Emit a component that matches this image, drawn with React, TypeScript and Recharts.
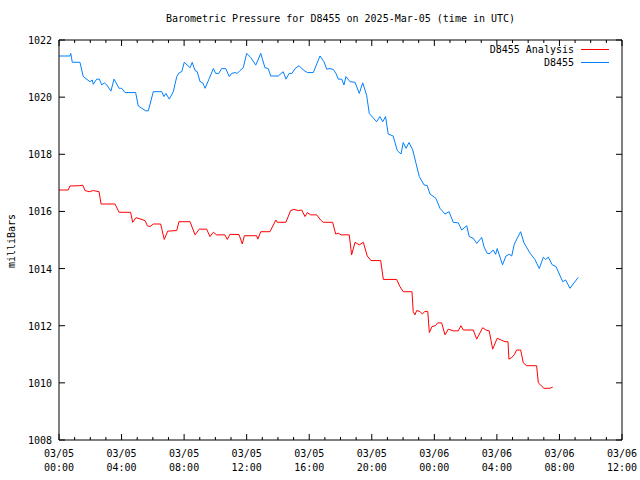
import { LineChart, Line, XAxis, YAxis, Legend } from "recharts";

const TITLE = "Barometric Pressure for D8455 on 2025-Mar-05 (time in UTC)";
const Y_LABEL = "milliBars";
const FONT = "'DejaVu Sans Mono', 'Liberation Mono', monospace";

// hours since 03/05 00:00 UTC
const Y_TICKS = [1008, 1010, 1012, 1014, 1016, 1018, 1020, 1022];
const HOUR_TICKS = Array.from({ length: 37 }, (_, i) => i);

const ANALYSIS_NAME = "D8455 Analysis";
const ANALYSIS_HOURS = [
  0, 0.59, 0.7, 1.3, 1.52, 1.66, 1.94, 2.19, 2.56, 2.69, 3.58, 3.84, 4.58, 4.71, 4.92, 5.18, 5.5, 5.65, 5.82, 6.03,
  6.5, 6.73, 6.95, 7.53, 7.67, 8.38, 8.7, 8.97, 9.44, 9.65, 9.87, 10.08, 10.61, 10.76, 10.93, 11.51, 11.72, 11.85,
  12.64, 12.71, 12.9, 13.49, 13.87, 13.96, 14.51, 14.81, 15.03, 15.3, 15.52, 15.73, 15.88, 16.09, 16.48, 16.73, 16.9,
  17.5, 17.69, 17.86, 18.03, 18.56, 18.71, 18.93, 19.2, 19.46, 19.71, 19.95, 20.57, 20.74, 21.59, 21.8, 22.01, 22.57,
  22.65, 22.76, 22.87, 23.08, 23.23, 23.4, 23.58, 23.68, 23.85, 24.07, 24.21, 24.47, 24.68, 24.89, 25.21, 25.53, 25.7,
  25.85, 26.49, 26.71, 27.09, 27.3, 27.51, 27.73, 28.02, 28.52, 28.71, 28.77, 28.94, 29.11, 29.26, 29.52, 29.69, 29.9,
  30.54, 30.65, 31.01, 31.39, 31.57,
];
const ANALYSIS_MB = [
  1016.75, 1016.75, 1016.89, 1016.9, 1016.92, 1016.73, 1016.69, 1016.73, 1016.69, 1016.26, 1016.26, 1015.97, 1015.97,
  1015.62, 1015.78, 1015.74, 1015.68, 1015.5, 1015.47, 1015.56, 1015.56, 1015.02, 1015.31, 1015.33, 1015.64, 1015.64,
  1015.18, 1015.38, 1015.38, 1015.12, 1015.27, 1015.18, 1015.18, 1015.02, 1015.2, 1015.19, 1014.86, 1015.15, 1015.15,
  1015.03, 1015.29, 1015.29, 1015.7, 1015.62, 1015.62, 1016.03, 1016.07, 1016.03, 1016.05, 1015.82, 1015.96, 1015.88,
  1015.88, 1015.7, 1015.62, 1015.62, 1015.21, 1015.24, 1015.18, 1015.18, 1014.48, 1014.92, 1014.83, 1014.92, 1014.44,
  1014.28, 1014.28, 1013.62, 1013.62, 1013.37, 1013.19, 1013.19, 1012.49, 1012.38, 1012.53, 1012.5, 1012.41, 1012.5,
  1012.5, 1011.76, 1011.97, 1012.0, 1012.1, 1012.1, 1011.68, 1011.88, 1011.82, 1011.82, 1012.0, 1011.85, 1011.85,
  1011.53, 1011.93, 1011.85, 1011.82, 1011.18, 1011.56, 1011.44, 1011.44, 1010.83, 1010.88, 1010.98, 1011.15, 1011.15,
  1010.7, 1010.6, 1010.6, 1010.0, 1009.81, 1009.81, 1009.85,
];

const OBS_NAME = "D8455";
const OBS_HOURS = [
  0, 0.7, 0.75, 0.85, 1.34, 1.55, 1.98, 2.13, 2.19, 2.41, 2.58, 2.73, 2.9, 3.05, 3.32, 3.52, 3.84, 4.01, 4.22, 4.9,
  5.07, 5.29, 5.56, 5.71, 6.03, 6.57, 6.71, 6.84, 7.05, 7.31, 7.53, 7.69, 7.85, 8.01, 8.38, 8.52, 8.7, 8.84, 9.02,
  9.19, 9.34, 9.59, 9.87, 10.02, 10.21, 10.4, 10.66, 10.89, 11.04, 11.25, 11.4, 11.57, 11.78, 12.0, 12.26, 12.58, 12.9,
  13.17, 13.38, 13.54, 14.02, 14.34, 14.51, 14.72, 14.9, 15.09, 15.35, 15.62, 15.88, 16.26, 16.48, 16.69, 16.94,
  17.12, 17.33, 17.54, 17.71, 17.86, 18.08, 18.22, 18.35, 18.61, 18.93, 19.2, 19.42, 19.67, 19.84, 20.31, 20.52, 20.7,
  20.88, 21.05, 21.37, 21.63, 21.87, 22.01, 22.19, 22.38, 22.62, 22.83, 23.04, 23.34, 23.55, 23.72, 24.1, 24.36,
  24.68, 24.94, 25.21, 25.53, 25.75, 26.07, 26.23, 26.49, 26.71, 27.03, 27.17, 27.38, 27.56, 27.77, 27.92, 28.02,
  28.36, 28.58, 28.79, 28.95, 29.11, 29.3, 29.52, 29.73, 30.12, 30.43, 30.71, 30.97, 31.12, 31.29, 31.54, 31.78,
  32.21, 32.4, 32.67, 33.2,
];
const OBS_MB = [
  1021.44, 1021.44, 1021.53, 1021.22, 1021.22, 1020.72, 1020.54, 1020.6, 1020.45, 1020.63, 1020.63, 1020.43, 1020.5,
  1020.43, 1020.21, 1020.63, 1020.31, 1020.31, 1020.16, 1020.16, 1019.69, 1019.61, 1019.52, 1019.52, 1020.19, 1020.19,
  1020.02, 1020.13, 1019.93, 1020.19, 1020.72, 1020.86, 1020.89, 1021.22, 1021.03, 1021.22, 1020.93, 1020.89, 1020.54,
  1020.5, 1020.31, 1020.63, 1021.0, 1020.83, 1020.83, 1021.0, 1021.0, 1020.72, 1020.83, 1020.86, 1020.83, 1020.93,
  1021.03, 1021.53, 1021.39, 1021.12, 1021.53, 1021.03, 1021.0, 1020.74, 1020.74, 1020.89, 1020.63, 1020.83, 1020.83,
  1021.0, 1021.1, 1020.95, 1020.86, 1020.86, 1021.16, 1021.44, 1021.24, 1020.98, 1021.0, 1020.97, 1020.83, 1020.63,
  1020.63, 1020.43, 1020.72, 1020.54, 1020.52, 1020.13, 1020.5, 1020.07, 1019.43, 1019.14, 1019.32, 1019.14, 1019.32,
  1018.71, 1018.64, 1018.13, 1018.01, 1018.41, 1018.21, 1018.41, 1018.15, 1017.68, 1017.22, 1016.93, 1016.9, 1016.61,
  1016.46, 1016.11, 1015.91, 1015.99, 1015.62, 1015.6, 1015.35, 1015.5, 1015.12, 1015.06, 1014.88, 1015.09, 1014.77,
  1014.53, 1014.53, 1014.65, 1014.5, 1014.7, 1014.13, 1014.44, 1014.5, 1014.44, 1014.85, 1015.06, 1015.29, 1014.9,
  1014.54, 1014.32, 1014.0, 1014.4, 1014.32, 1014.4, 1014.13, 1014.07, 1013.54, 1013.6, 1013.31, 1013.69,
];

const LEGEND_ORDER = [ANALYSIS_NAME, OBS_NAME];

const analysisData = ANALYSIS_HOURS.map((h, i) => ({ h, mb: ANALYSIS_MB[i] }));
const obsData = OBS_HOURS.map((h, i) => ({ h, mb: OBS_MB[i] }));

const pad = (n: number) => String(n).padStart(2, "0");

function BottomTick({ x, y, payload }: any) {
  const h = payload.value as number;
  const major = h % 4 === 0;
  return (
    <g>
      <line x1={x} y1={y} x2={x} y2={y - (major ? 6 : 3)} stroke="#000" />
      {major && (
        <text x={x} y={y} textAnchor="middle" fontFamily={FONT} fontSize={10} fill="#000">
          <tspan x={x} dy={17}>{`03/${pad(5 + Math.floor(h / 24))}`}</tspan>
          <tspan x={x} dy={14}>{`${pad(h % 24)}:00`}</tspan>
        </text>
      )}
    </g>
  );
}

function TopTick({ x, y, payload }: any) {
  const major = payload.value % 4 === 0;
  return <line x1={x} y1={y} x2={x} y2={y + (major ? 6 : 3)} stroke="#000" />;
}

function LeftTick({ x, y, payload }: any) {
  return (
    <g>
      <line x1={x} y1={y} x2={x + 6} y2={y} stroke="#000" />
      <text x={x - 7} y={y} dy={4} textAnchor="end" fontFamily={FONT} fontSize={10} fill="#000">
        {payload.value}
      </text>
    </g>
  );
}

function RightTick({ x, y }: any) {
  return <line x1={x} y1={y} x2={x - 6} y2={y} stroke="#000" />;
}

function LegendBox({ payload }: any) {
  const items = [...(payload ?? [])].sort(
    (a: any, b: any) => LEGEND_ORDER.indexOf(a.value) - LEGEND_ORDER.indexOf(b.value)
  );
  return (
    <div style={{ fontFamily: FONT, fontSize: 10, color: "#000" }}>
      {items.map((p: any) => (
        <div key={p.value} style={{ display: "flex", justifyContent: "flex-end", alignItems: "center", height: 13 }}>
          <span>{p.value}</span>
          <span style={{ display: "inline-block", width: 28, height: 1, background: p.color, marginLeft: 7 }} />
        </div>
      ))}
    </div>
  );
}

export default function App() {
  return (
    <div style={{ position: "absolute", left: 0, top: 0, width: 640, height: 480, background: "#fff" }}>
      <div
        style={{
          position: "absolute",
          left: 0,
          top: 13,
          width: 681,
          textAlign: "center",
          fontFamily: FONT,
          fontSize: 10,
          lineHeight: "12px",
        }}
      >
        {TITLE}
      </div>
      <div
        style={{
          position: "absolute",
          left: 11,
          top: 241,
          transform: "translate(-50%, -50%) rotate(-90deg)",
          fontFamily: FONT,
          fontSize: 10,
          whiteSpace: "nowrap",
        }}
      >
        {Y_LABEL}
      </div>
      <LineChart width={640} height={480} margin={{ top: 0, right: 0, bottom: 0, left: 0 }}>
        <XAxis
          xAxisId="b"
          dataKey="h"
          type="number"
          domain={[0, 36]}
          ticks={HOUR_TICKS}
          interval={0}
          height={40}
          tickSize={0}
          tickMargin={0}
          tickLine={false}
          axisLine={{ stroke: "#000" }}
          tick={<BottomTick />}
          allowDataOverflow
        />
        <XAxis
          xAxisId="t"
          orientation="top"
          dataKey="h"
          type="number"
          domain={[0, 36]}
          ticks={HOUR_TICKS}
          interval={0}
          height={40}
          tickSize={0}
          tickMargin={0}
          tickLine={false}
          axisLine={{ stroke: "#000" }}
          tick={<TopTick />}
          allowDataOverflow
        />
        <YAxis
          yAxisId="l"
          type="number"
          domain={[1008, 1022]}
          ticks={Y_TICKS}
          interval={0}
          width={59}
          tickSize={0}
          tickMargin={0}
          tickLine={false}
          axisLine={{ stroke: "#000" }}
          tick={<LeftTick />}
          allowDataOverflow
        />
        <YAxis
          yAxisId="r"
          orientation="right"
          type="number"
          domain={[1008, 1022]}
          ticks={Y_TICKS}
          interval={0}
          width={18}
          tickSize={0}
          tickMargin={0}
          tickLine={false}
          axisLine={{ stroke: "#000" }}
          tick={<RightTick />}
          allowDataOverflow
        />
        <Legend
          layout="horizontal"
          verticalAlign="middle"
          align="center"
          content={<LegendBox />}
          wrapperStyle={{ left: 409, top: 43, width: 200 }}
        />
        <Line
          xAxisId="b"
          yAxisId="l"
          data={analysisData}
          dataKey="mb"
          name={ANALYSIS_NAME}
          stroke="#ff0000"
          strokeWidth={1}
          dot={false}
          type="linear"
          isAnimationActive={false}
        />
        <Line
          xAxisId="b"
          yAxisId="l"
          data={obsData}
          dataKey="mb"
          name={OBS_NAME}
          stroke="#0080ff"
          strokeWidth={1}
          dot={false}
          type="linear"
          isAnimationActive={false}
        />
      </LineChart>
    </div>
  );
}
